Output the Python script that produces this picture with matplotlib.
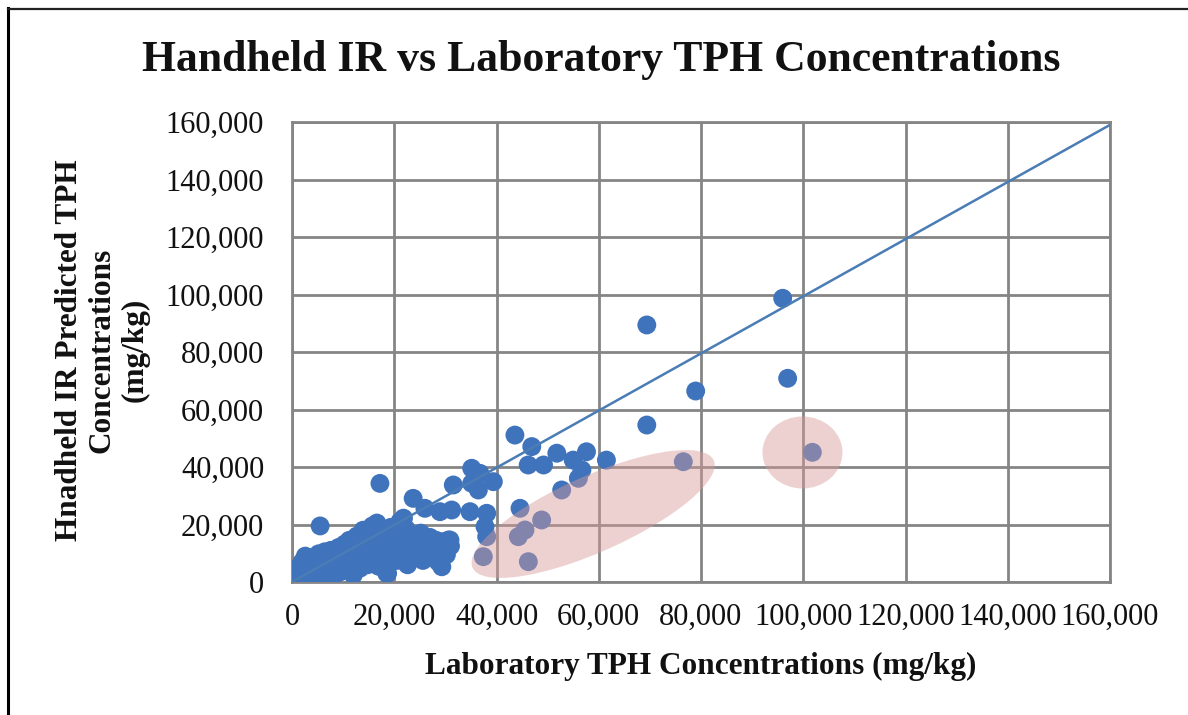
import matplotlib
matplotlib.use("Agg")
import matplotlib.pyplot as plt
import matplotlib.transforms as mtransforms
from matplotlib.patches import Ellipse
from matplotlib.ticker import FuncFormatter

# ---------------- data (mg/kg) ----------------
lab_tph = [
    # dense cluster near origin
    200, 500, 800, 1000, 1300, 1600, 1900, 2200, 2500, 2800, 3100, 3400, 3700, 4000,
    300, 1200, 2000, 2600, 600, 1500, 3000, 4200, 4500, 4800,
    5200, 5500, 5800, 6100, 6400, 6700, 7000, 7300, 7600, 7900, 8200, 8500, 8800, 9100,
    9400, 9700, 10000, 10300, 5000, 6500, 8000, 9200,
    10600, 10900, 11200, 11500, 11800, 12100, 12400, 12700, 13000, 13300, 13600, 13900,
    14200, 14500, 14800, 15100, 15400, 15700, 16000, 16300, 16600, 16900, 17200, 17500,
    17800, 18100, 18400, 18700, 19000, 19300, 19600, 19900, 12000,
    20200, 20500, 20800, 21100, 21400, 21700, 22000, 22300, 22600, 22900, 23200, 23500,
    24200, 24500, 24800, 25200, 25600, 26000, 26500, 27000, 27400, 27800, 28200, 28600,
    29000, 29300, 29600, 30200, 30600, 31000,
    # scattered points
    5500, 17200, 23700, 21800, 26000, 28950, 31230, 34820, 38080, 37750, 31550, 35150,
    36770, 35150, 36450, 39380, 30900, 18520,
    43600, 46900, 46200, 49200, 51800, 55000, 57600, 61500, 56700, 69400, 69400,
    78960, 95980, 96950,
    # points inside highlighted regions
    38080, 37420, 44270, 45570, 44600, 48830, 46230, 52750, 56010, 76540, 101780,
]
ir_tph = [
    300, 1200, 400, 2500, 1000, 3800, 1800, 5500, 800, 3000, 7500, 2000, 4800, 8500,
    2000, 5000, 7000, 9000, 0, 200, 500, 1200, 3500, 6000,
    9800, 2200, 4500, 7200, 10500, 3000, 5800, 8600, 11000, 1500, 4200, 6800, 9500, 12000,
    3500, 7800, 10200, 13200, 800, 600, 2800, 5500,
    5000, 8400, 14500, 11000, 3800, 6500, 9600, 16000, 12500, 4800, 7800, 18000,
    10800, 14200, 6000, 12000, 17000, 19500, 9000, 15000, 20500, 5500, 11800, 13800,
    18200, 8000, 16200, 3000, 12500, 19000, 10000, 14800, 2500,
    17500, 7500, 12000, 21000, 15500, 9800, 13500, 18500, 6000, 11000, 16500, 13000,
    9000, 15000, 12000, 17000, 7500, 13800, 10500, 15500, 12500, 9000, 14500, 7000,
    11500, 5300, 14000, 9500, 14600, 12500,
    19500, 34300, 29100, 22200, 25630, 24460, 25040, 24460, 23900, 19240, 33740, 39550,
    37800, 34330, 32000, 34900, 14600, 3030,
    51100, 47100, 40700, 40700, 44800, 42400, 45300, 42400, 38960, 54600, 89400,
    66430, 98680, 70850,
    15770, 8800, 15770, 18090, 25630, 21570, 7070, 32000, 36070, 41840, 45110,
]

# linear trendline endpoints
trend_x = [0, 160000]
trend_y = [0, 159000]

x_ticks = list(range(0, 160001, 20000))
y_ticks = list(range(0, 160001, 20000))

title = "Handheld IR vs Laboratory TPH Concentrations"
x_label = "Laboratory TPH Concentrations (mg/kg)"
y_label = "Hnadheld IR Predicted TPH\nConcentrations\n(mg/kg)"

# highlighted regions (center in data units)
highlight_centers = [(58900, 23650), (99850, 45050)]

# ---------------- figure ----------------
plt.rcParams["font.family"] = ["Liberation Serif", "DejaVu Serif"]
fig = plt.figure(figsize=(11.88, 7.15), dpi=100)
ax = fig.add_axes([292 / 1188, 133 / 715, 818 / 1188, 460 / 715])

grid_col = "#858585"
ax.set_xlim(0, 160000)
ax.set_ylim(0, 160000)
ax.set_xticks(x_ticks)
ax.set_yticks(y_ticks)
fmt = FuncFormatter(lambda v, p: f"{int(v):,}")
ax.xaxis.set_major_formatter(fmt)
ax.yaxis.set_major_formatter(fmt)
ax.grid(True, color=grid_col, linewidth=2.0, zorder=0)
ax.set_axisbelow(True)
for s in ax.spines.values():
    s.set_color(grid_col)
    s.set_linewidth(2.0)
ax.tick_params(axis="both", length=0, labelsize=22, colors="#111111")
ax.tick_params(axis="x", pad=15)
ax.tick_params(axis="y", pad=20)

ax.scatter(lab_tph, ir_tph, s=185, color="#3F73BB", edgecolors="none", zorder=3)
ax.plot(trend_x, trend_y, color="#4A7CB5", linewidth=1.8, zorder=4)

# highlight ellipses sized in inches, placed at data centers
sizes = [(2.64, 0.76, 24), (0.80, 0.72, 0)]
for (cx, cy), (w, h, ang) in zip(highlight_centers, sizes):
    tr = fig.dpi_scale_trans + mtransforms.ScaledTranslation(cx, cy, ax.transData)
    e = Ellipse((0, 0), w, h, angle=ang, transform=tr,
                facecolor="#D89A9A", alpha=0.45, edgecolor="none", zorder=5)
    ax.add_patch(e)

fig.text(601 / 1188, 1 - 60 / 715, title, ha="center", va="center",
         fontsize=31.5, fontweight="bold", color="#111111")
fig.text(701 / 1188, 1 - 666 / 715, x_label, ha="center", va="center",
         fontsize=22.5, fontweight="bold", color="#111111")
fig.text(102 / 1188, 1 - 350 / 715, y_label, ha="center", va="center",
         rotation=90, fontsize=22.5, fontweight="bold", color="#111111",
         multialignment="center", linespacing=1.17)

# frame lines (left and top)
fig.add_artist(plt.Line2D([8 / 1188, 8 / 1188], [0, 1 - 8 / 715],
                          transform=fig.transFigure, color="black", linewidth=2.2))
fig.add_artist(plt.Line2D([8 / 1188, 1], [1 - 9 / 715, 1 - 9 / 715],
                          transform=fig.transFigure, color="#222222", linewidth=1.6))

fig.savefig("out.png", dpi=100)
